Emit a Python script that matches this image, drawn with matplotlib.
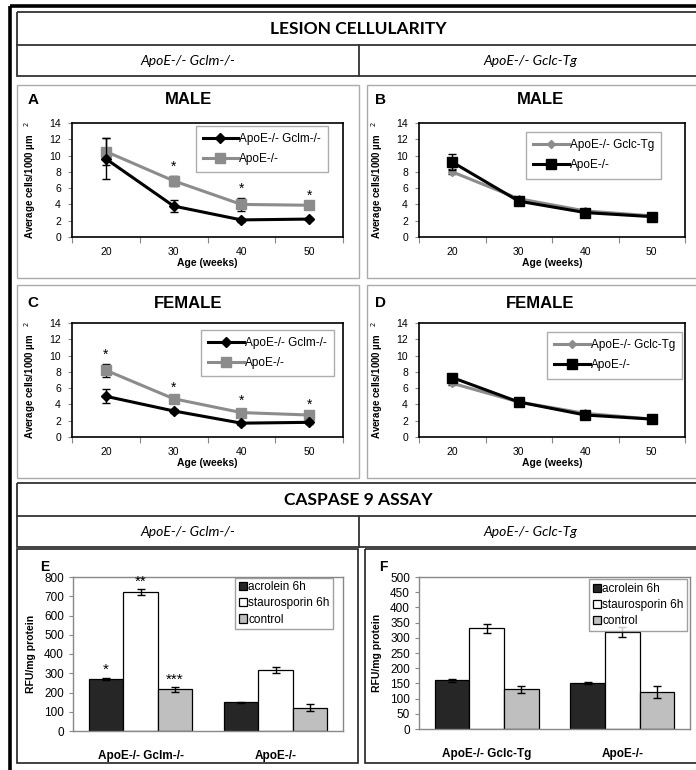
import numpy as np
import matplotlib
matplotlib.use("Agg")
import matplotlib.pyplot as plt
from matplotlib.patches import Rectangle

W, H = 696, 770
CHART_FONT = "Liberation Sans"
HEAD_FONT = "Lato"
GREY = "#8c8c8c"

ages = ["20", "30", "40", "50"]

# A: male, ApoE-/- Gclm-/- vs ApoE-/-
a_gclm = [9.6, 3.8, 2.1, 2.2]
a_gclm_err = [2.5, 0.7, 0.2, 0.15]
a_apoe = [10.5, 6.9, 4.0, 3.9]
a_apoe_err = [1.6, 0.6, 0.8, 0.1]
a_sig = ["", "*", "*", "*"]

# B: male, ApoE-/- Gclc-Tg vs ApoE-/-
b_gclc = [8.0, 4.7, 3.2, 2.6]
b_gclc_err = [0.3, 0.2, 0.15, 0.1]
b_apoe = [9.2, 4.4, 3.0, 2.5]
b_apoe_err = [1.0, 0.3, 0.2, 0.1]

# C: female, ApoE-/- Gclm-/- vs ApoE-/-
c_gclm = [5.0, 3.2, 1.7, 1.8]
c_gclm_err = [0.85, 0.2, 0.2, 0.15]
c_apoe = [8.2, 4.7, 3.0, 2.7]
c_apoe_err = [0.8, 0.2, 0.35, 0.2]
c_sig = ["*", "*", "*", "*"]

# D: female, ApoE-/- Gclc-Tg vs ApoE-/-
d_gclc = [6.6, 4.3, 2.9, 2.2]
d_gclc_err = [0.2, 0.15, 0.15, 0.1]
d_apoe = [7.3, 4.3, 2.7, 2.2]
d_apoe_err = [0.3, 0.15, 0.15, 0.1]

# caspase 9 assay
treatments = ["acrolein 6h", "staurosporin 6h", "control"]
bar_colors = ["#262626", "white", "#bfbfbf"]
e_groups = ["ApoE-/- Gclm-/-", "ApoE-/-"]
e_vals = [[272, 150], [722, 318], [217, 122]]
e_errs = [[5, 3], [15, 15], [12, 20]]
e_sig = [["*", ""], ["**", ""], ["***", ""]]
f_groups = ["ApoE-/- Gclc-Tg", "ApoE-/-"]
f_vals = [[160, 150], [331, 318], [130, 122]]
f_errs = [[6, 3], [16, 16], [12, 20]]

plt.rcParams["font.family"] = CHART_FONT

fig = plt.figure(figsize=(W / 100, H / 100), dpi=100)

# background layer in pixel coordinates for frames and headers
bg = fig.add_axes([0, 0, 1, 1])
bg.set_xlim(0, W)
bg.set_ylim(H, 0)
bg.axis("off")


def box(x0, y0, x1, y1, color, lw):
    bg.add_patch(Rectangle((x0, y0), x1 - x0, y1 - y0, fill=False,
                           edgecolor=color, lw=lw))


box(10, 6, 720, 800, "black", 2.6)
for top, title in [(12, "LESION CELLULARITY"), (483, "CASPASE 9 ASSAY")]:
    box(17, top, 710, top + 64, "#333333", 1.3)
    bg.plot([17, 710], [top + 33, top + 33], color="#333333", lw=1.3)
    bg.plot([359, 359], [top + 33, top + 64], color="#333333", lw=1.3)
    bg.text(358, top + 17, title, ha="center", va="center",
            family=HEAD_FONT, weight="bold", fontsize=12.5)
    bg.text(188, top + 49, "ApoE-/- Gclm-/-", ha="center", va="center",
            family=HEAD_FONT, style="italic", fontsize=10)
    bg.text(530, top + 49, "ApoE-/- Gclc-Tg", ha="center", va="center",
            family=HEAD_FONT, style="italic", fontsize=10)

box(17, 85, 359, 278, "#ababab", 1)
box(367, 85, 720, 278, "#ababab", 1)
box(17, 285, 359, 478, "#ababab", 1)
box(367, 285, 720, 478, "#ababab", 1)
box(17, 549, 358, 763, "#222222", 1.2)
box(365, 549, 720, 763, "#222222", 1.2)

for x, y, s in [(33, 100, "A"), (381, 100, "B"), (33, 303, "C"), (381, 303, "D")]:
    bg.text(x, y, s, ha="center", va="center", weight="bold", fontsize=11)
for x, y, s in [(45, 567, "E"), (383, 567, "F")]:
    bg.text(x, y, s, ha="center", va="center", weight="bold", fontsize=10)
for x, y, s in [(188, 99, "MALE"), (540, 99, "MALE"),
                (188, 303, "FEMALE"), (540, 303, "FEMALE")]:
    bg.text(x, y, s, ha="center", va="center", weight="bold", fontsize=12)


def px_axes(x0, y0, x1, y1):
    return fig.add_axes([x0 / W, 1 - y1 / H, (x1 - x0) / W, (y1 - y0) / H])


def line_panel(rect, s1, e1, s2, e2, names, colors, markers, sizes,
               sig, anchor, black_on_top):
    ax = px_axes(*rect)
    x = np.arange(len(ages))
    conts = []
    for vals, errs, c, m, ms, z in zip([s1, s2], [e1, e2], colors, markers,
                                       sizes, black_on_top):
        cont = ax.errorbar(x, vals, yerr=errs, color=c, lw=2.2, marker=m,
                           ms=ms, ecolor="black", elinewidth=1, capsize=3,
                           capthick=1, zorder=z)
        conts.append(cont[0])
    for i, s in enumerate(sig):
        if s:
            ax.text(x[i], s2[i] + e2[i] + 0.25, s, ha="center", va="bottom",
                    fontsize=10)
    ax.set_xlim(-0.5, len(ages) - 0.5)
    ax.set_ylim(0, 14)
    ax.set_yticks(range(0, 15, 2))
    ax.set_xticks(np.arange(-0.5, len(ages)), minor=False)
    ax.set_xticklabels([])
    ax.set_xticks(x, minor=True)
    ax.set_xticklabels(ages, minor=True)
    ax.tick_params(axis="x", which="minor", length=0, labelsize=7.5, pad=7)
    ax.tick_params(axis="x", which="major", length=4, color="#888888")
    ax.tick_params(axis="y", length=3, labelsize=7.5, pad=5, color="#888888")
    for sp in ax.spines.values():
        sp.set_linewidth(1.2)
    ax.set_xlabel("Age (weeks)", weight="bold", fontsize=7.5, labelpad=1)
    ax.set_ylabel("Average cells/1000 µm   $^{2}$", weight="bold",
                  fontsize=7, labelpad=8)
    leg = ax.legend(conts, names, loc="upper right", bbox_to_anchor=anchor,
                    fontsize=8.5, frameon=True, fancybox=False,
                    handlelength=3, handletextpad=0.1, borderpad=0.6,
                    labelspacing=0.7, borderaxespad=0)
    leg.get_frame().set_edgecolor("#999999")
    leg.get_frame().set_linewidth(1)
    return ax


gclm_names = ["ApoE-/- Gclm-/-", "ApoE-/-"]
gclc_names = ["ApoE-/- Gclc-Tg", "ApoE-/-"]

line_panel((72, 123, 343, 237), a_gclm, a_gclm_err, a_apoe, a_apoe_err,
           gclm_names, ["black", GREY], ["D", "s"], [5, 7], a_sig,
           (0.945, 0.975), [3, 2])
line_panel((419, 123, 685, 237), b_gclc, b_gclc_err, b_apoe, b_apoe_err,
           gclc_names, [GREY, "black"], ["D", "s"], [4, 7], [""] * 4,
           (0.91, 0.92), [2, 3])
line_panel((72, 323, 343, 437), c_gclm, c_gclm_err, c_apoe, c_apoe_err,
           gclm_names, ["black", GREY], ["D", "s"], [5, 7], c_sig,
           (0.965, 0.94), [3, 2])
line_panel((419, 323, 685, 437), d_gclc, d_gclc_err, d_apoe, d_apoe_err,
           gclc_names, [GREY, "black"], ["D", "s"], [4, 7], [""] * 4,
           (0.99, 0.92), [2, 3])


def bar_panel(rect, groups, vals, errs, sig, ymax, ystep, anchor):
    ax = px_axes(*rect)
    x = np.arange(len(groups))
    w = 0.255
    for k, (name, c) in enumerate(zip(treatments, bar_colors)):
        pos = x + (k - 1) * w
        ax.bar(pos, vals[k], w, color=c, edgecolor="black", lw=0.9,
               label=name, yerr=errs[k], capsize=3,
               error_kw=dict(elinewidth=1, capthick=1, ecolor="black"))
        if sig is not None:
            for i in range(len(groups)):
                if sig[k][i]:
                    ax.text(pos[i], vals[k][i] + errs[k][i] + 3, sig[k][i],
                            ha="center", va="bottom", fontsize=11)
    ax.set_xlim(-0.5, len(groups) - 0.5)
    ax.set_ylim(0, ymax)
    ax.set_yticks(np.arange(0, ymax + 1, ystep))
    ax.set_xticks(x)
    ax.set_xticklabels(groups, weight="bold", fontsize=8.5)
    ax.tick_params(axis="x", length=0, pad=14)
    ax.tick_params(axis="y", length=3, labelsize=8.5, color="#888888")
    for sp in ax.spines.values():
        sp.set_color("#888888")
        sp.set_linewidth(1)
    ax.set_ylabel("RFU/mg protein", weight="bold", fontsize=7.5, labelpad=6)
    leg = ax.legend(loc="upper right", bbox_to_anchor=anchor, fontsize=8.5,
                    frameon=True, fancybox=False, handlelength=0.7,
                    handleheight=0.7, handletextpad=0.1, borderpad=0.3,
                    labelspacing=0.35, borderaxespad=0)
    leg.get_frame().set_edgecolor("#888888")
    leg.get_frame().set_linewidth(1)
    return ax


bar_panel((73, 577, 343, 731), e_groups, e_vals, e_errs, e_sig, 800, 100,
          (0.963, 0.995))
bar_panel((419, 577, 690, 729), f_groups, f_vals, f_errs, None, 500, 50,
          (0.99, 0.985))

fig.savefig("out.png", dpi=100)
